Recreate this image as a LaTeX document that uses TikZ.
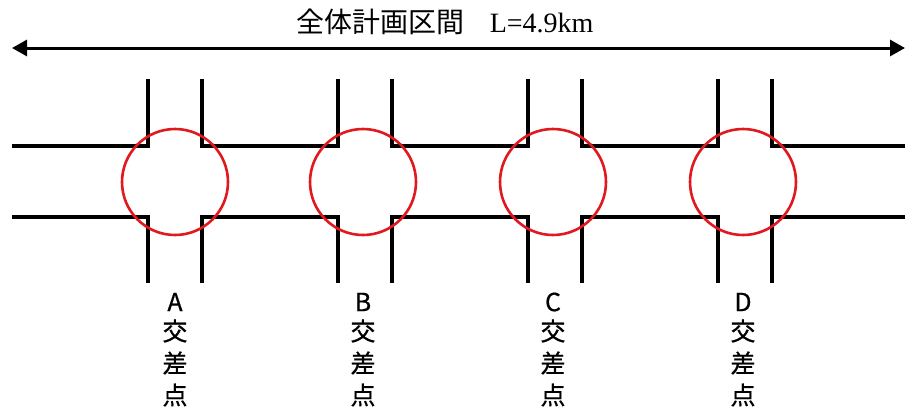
\documentclass[tikz,border=0pt]{standalone}
\usepackage{fontspec}
\setmainfont{Liberation Serif}
\newfontfamily\cjk{Noto Sans CJK JP}
\newfontfamily\cjkl[FakeBold=0.6]{Noto Sans CJK JP}
\usetikzlibrary{arrows.meta}
\definecolor{ringred}{RGB}{225,25,30}
\begin{document}
\begin{tikzpicture}[x=1pt,y=-1pt,
  road/.style={line width=3.2pt, line join=miter},
  ring/.style={draw=ringred, line width=2.6pt},
  span/.style={line width=3pt, {Triangle[length=15pt,width=16pt]}-{Triangle[length=15pt,width=16pt]}},
  title/.style={inner sep=0pt, font=\fontsize{28}{28}\selectfont},
  lbl/.style={inner sep=0pt, font=\cjkl\fontsize{25}{25}\selectfont}]
\useasboundingbox (0,0) rectangle (905,416);
\fill[white] (0,0) rectangle (905,416);
% span arrow
\coordinate (sL) at (12,48);
\coordinate (sR) at (905,48);
\draw[span] (sL) -- (sR);
\node[title] (ttl) at (445,22) {{\cjk 全体計画区間}\hspace{0.9em}L=4.9km};
% road edges
\coordinate (e0t) at (12,146);
\coordinate (e0b) at (12,217);
\coordinate (e5t) at (905,146);
\coordinate (e5b) at (905,217);
\foreach \n/\xl/\xr in {1/148/202, 2/338/392, 3/528/582, 4/718/772}{
  \coordinate (tl\n) at (\xl,79);
  \coordinate (tr\n) at (\xr,79);
  \coordinate (bl\n) at (\xl,283);
  \coordinate (br\n) at (\xr,283);
}
\draw[road] (e0t) -| (tl1);
\draw[road] (e0b) -| (bl1);
\foreach \a/\b in {1/2, 2/3, 3/4}{
  \draw[road] (tr\a) |- (0,146 -| tl\b) -- (tl\b);
  \draw[road] (br\a) |- (0,217 -| bl\b) -- (bl\b);
}
\draw[road] (tr4) |- (e5t);
\draw[road] (br4) |- (e5b);
% circles and labels
\foreach \n/\cx/\ch in {1/175/A, 2/363/B, 3/553/C, 4/743/D}{
  \draw[ring] (\cx,182) circle (53);
  \node[lbl] (l\n a) at (\cx,302) {\ch};
  \node[lbl] (l\n b) at (\cx,331) {交};
  \node[lbl] (l\n c) at (\cx,363) {差};
  \node[lbl] (l\n d) at (\cx,395) {点};
}
\end{tikzpicture}
\end{document}
